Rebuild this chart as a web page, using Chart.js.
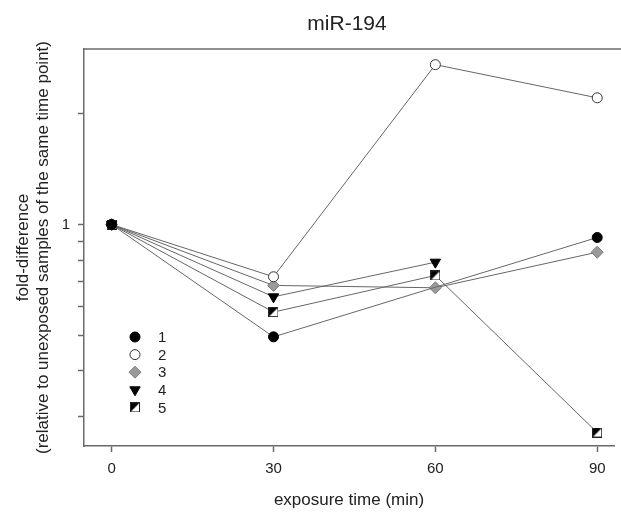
<!DOCTYPE html>
<html><head><meta charset="utf-8">
<script src="https://cdn.jsdelivr.net/npm/chart.js@4.4.1/dist/chart.umd.min.js"></script>
<style>html,body{margin:0;padding:0;overflow:hidden;background:#fff}</style>
</head><body>
<canvas id="c" width="621" height="512"></canvas>
<script>
const times = [0, 30, 60, 90];
const seriesLabels = ['1', '2', '3', '4', '5'];
const s1 = [1, 0.495, null, 0.922];
const s2 = [1, 0.721, 2.72, 2.21];
const s3 = [1, 0.683, 0.673, 0.841];
const s4 = [1, 0.636, 0.79, null];
const s5 = [1, 0.578, 0.727, 0.272];
const xTicks = [0, 30, 60, 90];
const yTicks = [0.3, 0.4, 0.5, 0.6, 0.7, 0.8, 0.9, 1, 2];
const yTickLabels = ['', '', '', '', '', '', '', '1', ''];
const chartTitle = 'miR-194';
const xTitle = 'exposure time (min)';
const yTitle = ['fold-difference', '(relative to unexposed samples of the same time point)'];

const FONT = "'Liberation Sans', Arial, sans-serif";
Chart.defaults.font.family = FONT;
Chart.defaults.color = '#222';

function halfSquare(size) {
  const c = document.createElement('canvas');
  c.width = c.height = size;
  const g = c.getContext('2d');
  g.fillStyle = '#fff'; g.fillRect(0, 0, size, size);
  g.fillStyle = '#000';
  g.beginPath(); g.moveTo(0, 0); g.lineTo(size, 0); g.lineTo(0, size); g.closePath(); g.fill();
  g.strokeStyle = '#222'; g.lineWidth = 1; g.strokeRect(0.5, 0.5, size - 1, size - 1);
  return c;
}
const sqImg = halfSquare(10);

function toPts(arr) { return times.map((t, i) => ({x: t, y: arr[i]})); }

const base = {borderColor: '#666', borderWidth: 1, fill: false, tension: 0, spanGaps: true, pointBorderWidth: 1};
const datasets = [
  Object.assign({}, base, {label: seriesLabels[0], data: toPts(s1), pointStyle: 'circle', pointRadius: 5, pointBackgroundColor: '#000', pointBorderColor: '#000'}),
  Object.assign({}, base, {label: seriesLabels[1], data: toPts(s2), pointStyle: 'circle', pointRadius: 5, pointBackgroundColor: '#fff', pointBorderColor: '#333'}),
  Object.assign({}, base, {label: seriesLabels[2], data: toPts(s3), pointStyle: 'rectRot', pointRadius: 6, pointBackgroundColor: '#9a9a9a', pointBorderColor: '#7a7a7a'}),
  Object.assign({}, base, {label: seriesLabels[3], data: toPts(s4), pointStyle: 'triangle', pointRotation: 180, pointRadius: 6, pointBackgroundColor: '#000', pointBorderColor: '#000'}),
  Object.assign({}, base, {label: seriesLabels[4], data: toPts(s5), pointStyle: sqImg, pointRadius: 5, pointBackgroundColor: '#000', pointBorderColor: '#000'})
];

const extras = {
  id: 'extras',
  afterDraw(chart) {
    const ctx = chart.ctx, a = chart.chartArea;
    ctx.save();
    ctx.strokeStyle = '#6a6a6a'; ctx.lineWidth = 1.5;
    ctx.beginPath(); ctx.moveTo(a.left, a.top); ctx.lineTo(chart.width, a.top); ctx.stroke();
    ctx.fillStyle = '#222'; ctx.font = '21px ' + FONT;
    ctx.textAlign = 'center'; ctx.textBaseline = 'middle';
    ctx.fillText(chartTitle, 347, 24);
    ctx.font = '15px ' + FONT; ctx.textAlign = 'left';
    chart.data.datasets.forEach((ds, i) => {
      const y = 337 + i * 17.6;
      ctx.fillStyle = ds.pointBackgroundColor; ctx.strokeStyle = ds.pointBorderColor; ctx.lineWidth = 1;
      Chart.helpers.drawPoint(ctx, {pointStyle: ds.pointStyle, rotation: ds.pointRotation || 0, radius: ds.pointRadius, borderWidth: 1}, 135, y);
      ctx.fillStyle = '#222';
      ctx.fillText(ds.label, 158, y + 1);
    });
    ctx.restore();
  }
};

new Chart(document.getElementById('c'), {
  type: 'line',
  data: {datasets},
  options: {
    responsive: false, animation: false, devicePixelRatio: 1,
    layout: {padding: {top: 49, right: 0, left: 0, bottom: 0}},
    plugins: {legend: {display: false}, tooltip: {enabled: false}, title: {display: false}},
    scales: {
      x: {
        type: 'linear', min: -5.122, max: 93.11,
        afterBuildTicks: s => { s.ticks = xTicks.map(v => ({value: v})); },
        afterFit: s => { s.height = 66; },
        ticks: {font: {size: 15}, color: '#222', padding: 8, maxRotation: 0, autoSkip: false},
        grid: {drawOnChartArea: false, drawTicks: true, tickLength: 6, tickColor: '#6a6a6a', tickWidth: 1.5},
        border: {display: true, color: '#6a6a6a', width: 1.5},
        title: {display: true, text: xTitle, font: {size: 17}, color: '#222', padding: {top: 0, bottom: 1}}
      },
      y: {
        type: 'logarithmic', min: 0.25, max: 3,
        afterBuildTicks: s => { s.ticks = yTicks.map(v => ({value: v})); },
        afterFit: s => { s.width = 84; },
        ticks: {font: {size: 15}, color: '#222', padding: 8, autoSkip: false,
          callback: v => { const i = yTicks.indexOf(v); return i >= 0 ? yTickLabels[i] : ''; }},
        grid: {drawOnChartArea: false, drawTicks: true, tickLength: 6, tickColor: '#6a6a6a', tickWidth: 1.5},
        border: {display: true, color: '#6a6a6a', width: 1.5},
        title: {display: true, text: yTitle, font: {size: 17, lineHeight: 1.2}, color: '#222', padding: {top: 13, bottom: 0}}
      }
    }
  },
  plugins: [extras]
});
</script>
</body></html>
